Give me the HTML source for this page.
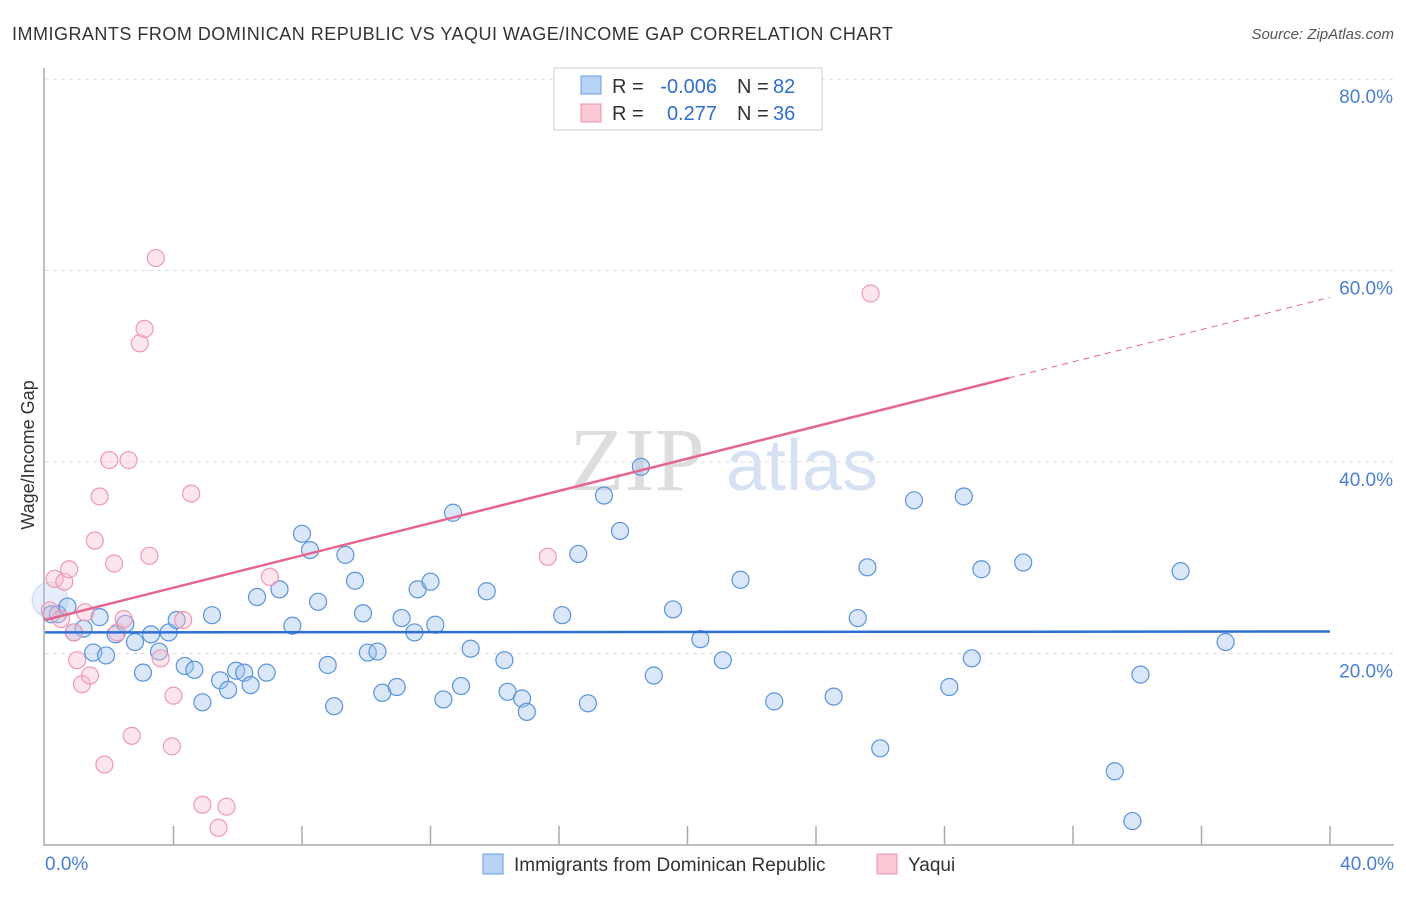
<!DOCTYPE html>
<html><head><meta charset="utf-8"><style>
body{margin:0;background:#fff;font-family:"Liberation Sans",sans-serif}
</style></head><body>
<svg width="1406" height="892" xmlns="http://www.w3.org/2000/svg" font-family="Liberation Sans, sans-serif">
<text x="12" y="40" font-size="18" fill="#333" textLength="881">IMMIGRANTS FROM DOMINICAN REPUBLIC VS YAQUI WAGE/INCOME GAP CORRELATION CHART</text>
<text x="1394" y="39" font-size="15" fill="#555" font-style="italic" text-anchor="end">Source: ZipAtlas.com</text>
<g><text x="637" y="490" font-size="90" fill="#ddd" font-family="Liberation Serif, serif" text-anchor="middle">ZIP</text><text x="802" y="490" font-size="72" fill="#d6e2f3" text-anchor="middle">atlas</text></g>
<g id="grid"></g>
<g id="axes"></g>
<g id="marks"></g>
<text transform="translate(34,455) rotate(-90)" font-size="18" fill="#333" text-anchor="middle">Wage/Income Gap</text>
<text x="45" y="870" font-size="19" fill="#4a7fd4">0.0%</text>
<text x="1394" y="870" font-size="19" fill="#4a7fd4" text-anchor="end">40.0%</text>
<g font-size="20">
<rect x="554" y="68" width="268" height="62" fill="#fff" stroke="#ccc"/>
<rect x="581" y="76" width="20" height="18" fill="#b8d2f5" stroke="#6a9de0"/>
<rect x="581" y="104" width="20" height="18" fill="#fbc8d6" stroke="#ec8fae"/>
<text x="612" y="93" fill="#333">R =</text>
<text x="717" y="93" fill="#2e6fd0" text-anchor="end">-0.006</text>
<text x="737" y="93" fill="#333">N =</text>
<text x="773" y="93" fill="#2e6fd0">82</text>
<text x="612" y="120" fill="#333">R =</text>
<text x="717" y="120" fill="#2e6fd0" text-anchor="end">0.277</text>
<text x="737" y="120" fill="#333">N =</text>
<text x="773" y="120" fill="#2e6fd0">36</text>
</g>
<g>
<rect x="483" y="854" width="20" height="20" fill="#b8d2f5" stroke="#6a9de0"/>
<text x="514" y="871" font-size="19" fill="#333">Immigrants from Dominican Republic</text>
<rect x="877" y="854" width="20" height="20" fill="#fbc8d6" stroke="#ec8fae"/>
<text x="908" y="871" font-size="19" fill="#333">Yaqui</text>
</g>
</svg>
<script>
const yTicks=[20,40,60,80];
const yTickLabels=["20.0%","40.0%","60.0%","80.0%"];
const blueX=[0.2,0.4,0.7,0.9,1.2,1.5,1.7,1.9,2.2,2.5,2.8,3.05,3.3,3.55,3.85,4.1,4.35,4.65,4.9,5.2,5.45,5.7,5.95,6.2,6.4,6.6,6.9,7.3,7.7,8.0,8.25,8.5,8.8,9.0,9.35,9.65,9.9,10.05,10.35,10.5,10.95,11.1,11.5,11.6,12.0,12.15,12.4,12.7,12.95,13.25,13.75,14.3,14.4,14.85,15.0,16.1,16.6,16.9,17.4,17.9,18.55,18.95,19.55,20.4,21.1,21.65,22.7,24.55,25.3,25.6,26.0,27.05,28.15,28.6,28.85,29.15,30.45,33.3,33.85,34.1,35.35,36.75];
const blueY=[24.1,24.1,24.9,22.2,22.6,20.1,23.8,19.8,22.0,23.1,21.2,18.0,22.0,20.2,22.2,23.5,18.7,18.3,14.9,24.0,17.2,16.2,18.2,18.0,16.7,25.9,18.0,26.7,22.9,32.5,30.8,25.4,18.8,14.5,30.3,27.6,24.2,20.1,20.2,15.9,16.5,23.7,22.2,26.7,27.5,23.0,15.2,34.7,16.6,20.5,26.5,19.3,16.0,15.3,13.9,24.0,30.4,14.8,36.5,32.8,39.5,17.7,24.6,21.5,19.3,27.7,15.0,15.5,23.7,29.0,10.1,36.0,16.5,36.4,19.5,28.8,29.5,7.7,2.5,17.8,28.6,21.2];
const pinkX=[0.15,0.3,0.5,0.6,0.75,0.9,1.0,1.15,1.25,1.4,1.55,1.7,1.85,2.0,2.15,2.25,2.45,2.6,2.7,2.95,3.1,3.25,3.45,3.6,3.95,4.0,4.3,4.55,4.9,5.4,5.65,7.0,15.65,25.7];
const pinkY=[24.5,27.8,23.6,27.5,28.8,22.2,19.3,16.8,24.3,17.7,31.8,36.4,8.4,40.2,29.4,22.2,23.6,40.2,11.4,52.4,53.9,30.2,61.3,19.5,10.3,15.6,23.5,36.7,4.2,1.8,4.0,28.0,30.1,57.6];
const blueTrend=[22.2,22.3];
const pinkTrend=[23.5,57.2];
const X=v=>45+v*32.125, Y=v=>845-v*9.575;
const ns="http://www.w3.org/2000/svg";
function mk(t,a,p){const e=document.createElementNS(ns,t);for(const k in a)e.setAttribute(k,a[k]);p.appendChild(e);return e;}
const grid=document.getElementById('grid'),axes=document.getElementById('axes'),marks=document.getElementById('marks');
yTicks.forEach((t,i)=>{
 const l=mk('line',{x1:45,x2:1394,y1:Y(t),y2:Y(t),stroke:'#ddd','stroke-dasharray':'4,4'},grid);
 
 
 const tx=mk('text',{x:1393,y:Y(t)+24,'font-size':19,fill:'#4a7fd4','text-anchor':'end'},grid);
 tx.textContent=yTickLabels[i];
 
 
});
const ax=mk('path',{d:`M44,68V845H1394`,fill:'none',stroke:'#aaa','stroke-width':1.5},axes);


for(let i=1;i<=10;i++){const t=mk('line',{x1:X(i*4),x2:X(i*4),y1:826,y2:845,stroke:'#aaa','stroke-width':1.5},axes);
 
 }
const big=mk('circle',{cx:50,cy:600,r:18,fill:'rgba(170,200,240,0.3)',stroke:'rgba(90,140,220,0.25)'},marks);


blueX.forEach((x,i)=>{const c=mk('circle',{cx:X(x),cy:Y(blueY[i]),r:8.5,fill:'rgba(160,195,240,0.4)',stroke:'#5b93dc','stroke-width':1.2},marks);
 
 });
pinkX.forEach((x,i)=>{const c=mk('circle',{cx:X(x),cy:Y(pinkY[i]),r:8.5,fill:'rgba(248,190,208,0.4)',stroke:'#ee9ab4','stroke-width':1.2},marks);
 
 });
const bt=mk('line',{x1:X(0),x2:X(40),y1:Y(blueTrend[0]),y2:Y(blueTrend[1]),stroke:'#2d6fd2','stroke-width':2.5},marks);


const pm=v=>pinkTrend[0]+(pinkTrend[1]-pinkTrend[0])*v/40;
const pt=mk('line',{x1:X(0),x2:X(30),y1:Y(pm(0)),y2:Y(pm(30)),stroke:'#e4668f','stroke-width':2.5},marks);


const pd=mk('line',{x1:X(30),x2:X(40),y1:Y(pm(30)),y2:Y(pm(40)),stroke:'#e4668f','stroke-width':1,'stroke-dasharray':'6,5'},marks);


</script>
</body></html>
